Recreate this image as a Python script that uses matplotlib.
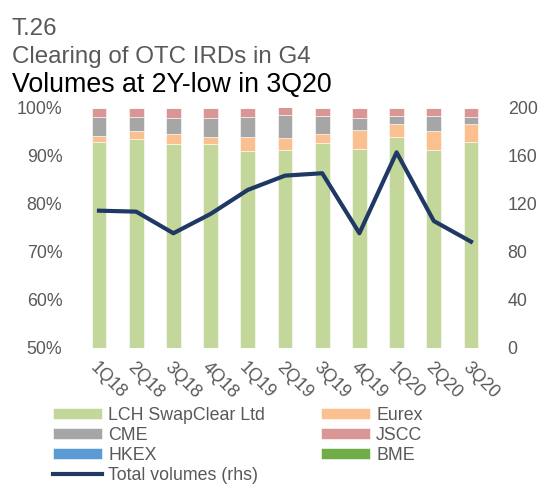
import matplotlib.pyplot as plt
import numpy as np

plt.rcParams['font.family'] = ['Liberation Sans', 'DejaVu Sans']

quarters = ["1Q18", "2Q18", "3Q18", "4Q18", "1Q19", "2Q19", "3Q19", "4Q19", "1Q20", "2Q20", "3Q20"]

# shares in % (stacked, lhs)
lch = [92.9, 93.5, 92.4, 92.4, 91.0, 91.3, 92.6, 91.5, 94.0, 91.2, 92.9]
eurex = [1.3, 1.6, 2.2, 1.6, 3.0, 2.5, 2.0, 4.0, 2.7, 3.9, 3.8]
cme = [4.0, 3.1, 3.3, 3.9, 4.2, 4.8, 3.8, 2.4, 1.7, 3.3, 1.4]
jscc = [1.8, 1.8, 2.1, 2.1, 1.8, 1.5, 1.6, 2.1, 1.6, 1.6, 1.9]
hkex = [0, 0, 0, 0, 0, 0, 0, 0, 0, 0, 0]
bme = [0, 0, 0, 0, 0, 0, 0, 0, 0, 0, 0]

# total volumes (rhs)
total = [114.4, 113.6, 95.6, 111.7, 131.7, 143.6, 145.6, 95.6, 163.0, 105.8, 88.6]

series = [
    ("LCH SwapClear Ltd", lch, "#c4d79b"),
    ("Eurex", eurex, "#fac090"),
    ("CME", cme, "#a6a6a6"),
    ("JSCC", jscc, "#da9694"),
    ("HKEX", hkex, "#5b9bd5"),
    ("BME", bme, "#70ad47"),
]

grey = "#595959"

fig = plt.figure(figsize=(5.41, 4.84), dpi=100)
ax = fig.add_axes([0.1486, 0.281, 0.7564, 0.496])
ax2 = ax.twinx()

x = np.arange(len(quarters))
bottom = np.zeros(len(quarters))
handles = {}
for name, vals, col in series:
    b = ax.bar(x, vals, width=0.4, bottom=bottom, color=col, edgecolor="white", linewidth=0.4, label=name)
    handles[name] = b
    bottom += np.array(vals)

line, = ax2.plot(x, total, color="#203864", lw=3, label="Total volumes (rhs)")

ax.set_xlim(-0.5, len(quarters) - 0.5)
ax.set_ylim(50, 100)
ax.set_yticks([50, 60, 70, 80, 90, 100])
ax.set_yticklabels([f"{v}%" for v in [50, 60, 70, 80, 90, 100]])
ax2.set_ylim(0, 200)
ax2.set_yticks([0, 40, 80, 120, 160, 200])

ax.set_xticks(x)
ax.set_xticklabels(quarters, rotation=-45, ha="left", va="top", rotation_mode="anchor")

for a in (ax, ax2):
    for s in a.spines.values():
        s.set_visible(False)
    a.tick_params(length=0, colors=grey, labelsize=12.8)
ax.tick_params(axis="y", pad=13)
ax2.tick_params(axis="y", pad=13)
ax.tick_params(axis="x", pad=8)

fig.text(0.022, 0.928, "T.26", fontsize=17.4, color=grey)
fig.text(0.022, 0.869, "Clearing of OTC IRDs in G4", fontsize=17.4, color=grey)
fig.text(0.022, 0.810, "Volumes at 2Y-low in 3Q20", fontsize=19.3, color="black")

order = ["LCH SwapClear Ltd", "CME", "HKEX", None, "Eurex", "JSCC", "BME"]
hl = []
lb = []
for n in order:
    if n is None:
        hl.append(line)
        lb.append("Total volumes (rhs)")
    else:
        hl.append(handles[n])
        lb.append(n)

leg = fig.legend(hl, lb, ncol=2, loc="upper left", bbox_to_anchor=(0.098, 0.159),
                 frameon=False, fontsize=12.8, handlelength=2.75, handleheight=0.6,
                 columnspacing=3.15, labelspacing=0.17, handletextpad=0.35,
                 borderaxespad=0, borderpad=0)
for t in leg.get_texts():
    t.set_color(grey)

fig.savefig("out.png", dpi=100)
